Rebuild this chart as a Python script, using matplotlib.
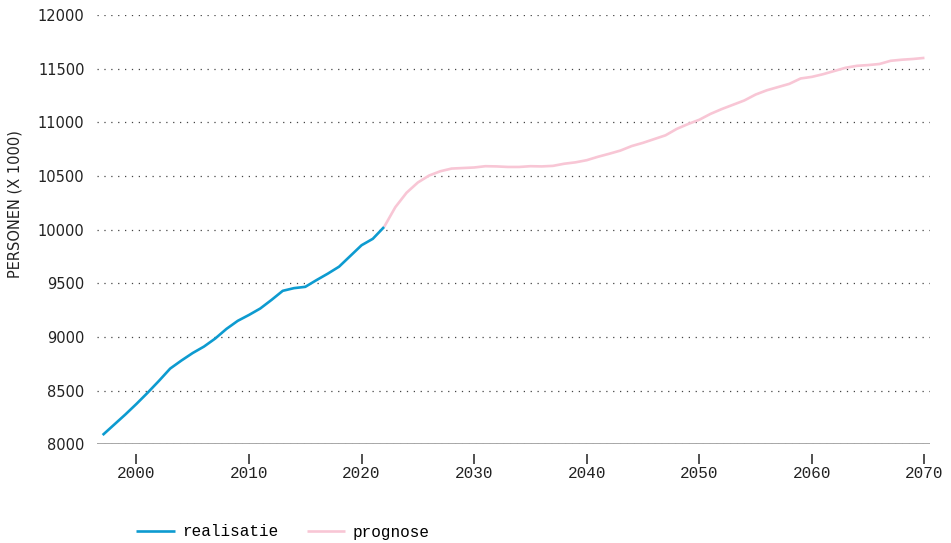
import matplotlib
matplotlib.use("Agg")
import matplotlib.pyplot as plt

# realisatie 1997-2022, prognose 2022-2070 (x 1000 personen)
jaren_real = list(range(1997, 2023))
realisatie = [8085, 8180, 8275, 8375, 8480, 8590, 8705, 8780, 8850, 8910,
              8985, 9075, 9150, 9205, 9265, 9345, 9430, 9455, 9467, 9530,
              9590, 9655, 9755, 9855, 9915, 10025]

jaren_prog = list(range(2022, 2071))
prognose = [10025, 10210, 10345, 10440, 10505, 10545, 10570, 10575, 10580, 10592,
            10590, 10585, 10585, 10592, 10590, 10595, 10615, 10628, 10648, 10680,
            10708, 10738, 10780, 10810, 10845, 10880, 10940, 10985, 11025, 11080,
            11125, 11165, 11205, 11260, 11300, 11330, 11360, 11410, 11425, 11450,
            11480, 11510, 11528, 11535, 11545, 11575, 11585, 11592, 11602]

x_ticks = [2000, 2010, 2020, 2030, 2040, 2050, 2060, 2070]
y_ticks = [8000, 8500, 9000, 9500, 10000, 10500, 11000, 11500, 12000]

blauw = "#0d9bd0"
roze = "#f8c6d5"

fig = plt.figure(figsize=(9.51, 5.43), dpi=100)
ax = fig.add_axes([0.102, 0.182, 0.876, 0.790])

ax.plot(jaren_prog, prognose, color=roze, lw=1.9, label="prognose", solid_capstyle="butt")
ax.plot(jaren_real, realisatie, color=blauw, lw=1.9, label="realisatie", solid_capstyle="butt")

ax.set_xlim(1996.5, 2070.5)
ax.set_ylim(8000, 12000)
ax.set_xticks(x_ticks)
ax.set_yticks(y_ticks)

for s in ["top", "right", "left"]:
    ax.spines[s].set_visible(False)
ax.spines["bottom"].set_position(("outward", 7))
ax.spines["bottom"].set_visible(False)

ax.yaxis.grid(True, linestyle=(0, (1, 4.5)), color="#444444", lw=0.9)
ax.set_axisbelow(True)
ax.axhline(8000, color="#9a9a9a", lw=1.2, zorder=1)

ax.tick_params(axis="y", length=0, pad=9, labelsize=10.5, labelcolor="#222222")
ax.tick_params(axis="x", length=7, width=1.1, color="#222222", pad=2,
               labelsize=11.5, labelcolor="#222222")
for lab in ax.get_xticklabels():
    lab.set_family("Liberation Mono")

fig.text(0.016, 1 - 204 / 543, "PERSONEN (X 1000)", rotation=90,
         va="center", ha="center", fontsize=10.5, color="#222222")

h, l = ax.get_legend_handles_labels()
fig.legend(h[::-1], l[::-1], loc="center left", bbox_to_anchor=(122 / 951, 1 - 532 / 543),
           ncol=2, frameon=False, handlelength=2.4, handletextpad=0.45, columnspacing=1.8,
           prop={"family": "Liberation Mono", "size": 11.5})

fig.savefig("out.png", dpi=100)
